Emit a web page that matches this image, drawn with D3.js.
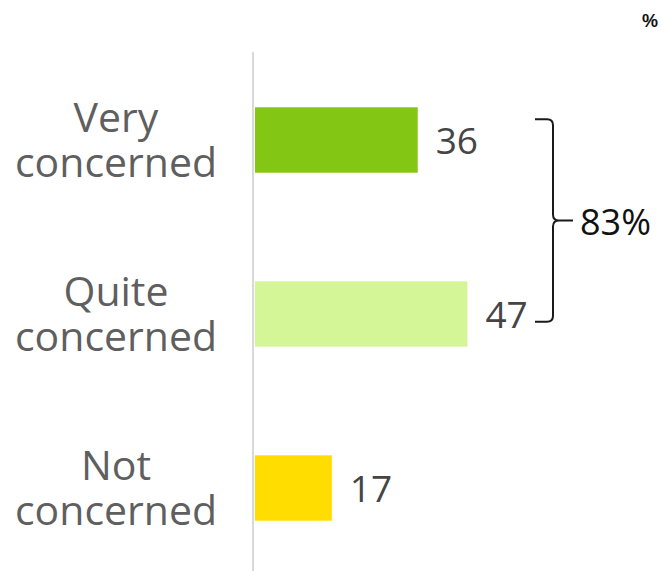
<!DOCTYPE html>
<html>
<head>
<meta charset="utf-8">
<script src="https://cdn.jsdelivr.net/npm/d3@7"></script>
<style>
  html, body { margin: 0; padding: 0; background: #fff; }
  svg { display: block; }
</style>
</head>
<body>
<svg id="chart" width="662" height="571"></svg>
<script>
// Level of concern, share of respondents (%)
const categories = [["Very", "concerned"], ["Quite", "concerned"], ["Not", "concerned"]];
const values = [36, 47, 17];
const barColors = ["#84c614", "#d5f696", "#ffdd00"];
const bracketLabel = "83%";
const unitLabel = "%";

const svg = d3.select("#chart");
const W = 662, H = 571;
const font = "'Open Sans', sans-serif";

const keys = categories.map(c => c.join(" "));

const y = d3.scaleBand()
  .domain(keys)
  .range([53, 575])
  .paddingInner(0.624)
  .paddingOuter(0.312);

const x = d3.scaleLinear()
  .domain([0, 100])
  .range([255, 707]);

// vertical baseline
svg.append("line")
  .attr("x1", 253).attr("x2", 253)
  .attr("y1", 52).attr("y2", H)
  .attr("stroke", "#d9d9d9")
  .attr("stroke-width", 2);

// bars
svg.selectAll("rect.bar")
  .data(values)
  .join("rect")
  .attr("class", "bar")
  .attr("x", x(0))
  .attr("y", (d, i) => y(keys[i]))
  .attr("width", d => x(d) - x(0))
  .attr("height", y.bandwidth())
  .attr("fill", (d, i) => barColors[i]);

// value labels
svg.selectAll("text.val")
  .data(values)
  .join("text")
  .attr("class", "val")
  .attr("x", d => x(d) + 18)
  .attr("y", (d, i) => y(keys[i]) + y.bandwidth() / 2 + 14)
  .attr("font-family", font)
  .attr("font-size", 37)
  .attr("fill", "#454545")
  .text(d => d);

// category labels: one text per line, stacked around the bar centre
const catLines = [];
categories.forEach((lines, i) => {
  const c = y(keys[i]) + y.bandwidth() / 2;
  catLines.push({ text: lines[0], y: c - 8 });
  catLines.push({ text: lines[1], y: c + 37 });
});

svg.selectAll("text.cat")
  .data(catLines)
  .join("text")
  .attr("class", "cat")
  .attr("x", 116)
  .attr("y", d => d.y)
  .attr("text-anchor", "middle")
  .attr("font-family", font)
  .attr("font-size", 41)
  .attr("fill", "#5f5f5f")
  .text(d => d.text);

// curly bracket grouping the first two bars
const yTop = y(keys[0]) + 12;
const yBot = y(keys[1]) + y.bandwidth() - 25;
const yMid = (yTop + yBot) / 2;
const bx0 = 535, bx = 553, tip = 573, r = 6;
const brace = d3.path();
brace.moveTo(bx0, yTop);
brace.lineTo(bx - r, yTop);
brace.quadraticCurveTo(bx, yTop, bx, yTop + r);
brace.lineTo(bx, yMid - r);
brace.quadraticCurveTo(bx, yMid, bx + r, yMid);
brace.moveTo(bx + r, yMid);
brace.quadraticCurveTo(bx, yMid, bx, yMid + r);
brace.lineTo(bx, yBot - r);
brace.quadraticCurveTo(bx, yBot, bx - r, yBot);
brace.lineTo(bx0, yBot);
brace.moveTo(bx + r, yMid);
brace.lineTo(tip, yMid);

svg.append("path")
  .attr("d", brace.toString())
  .attr("fill", "none")
  .attr("stroke", "#1a1a1a")
  .attr("stroke-width", 2);

svg.append("text")
  .attr("x", 580)
  .attr("y", yMid + 14)
  .attr("font-family", font)
  .attr("font-size", 36)
  .attr("fill", "#111")
  .text(bracketLabel);

// unit marker
svg.append("text")
  .attr("x", 658)
  .attr("y", 27)
  .attr("text-anchor", "end")
  .attr("font-family", "'Liberation Sans', Arial, sans-serif")
  .attr("font-weight", "bold")
  .attr("font-size", 18)
  .attr("fill", "#111")
  .text(unitLabel);
</script>
</body>
</html>
